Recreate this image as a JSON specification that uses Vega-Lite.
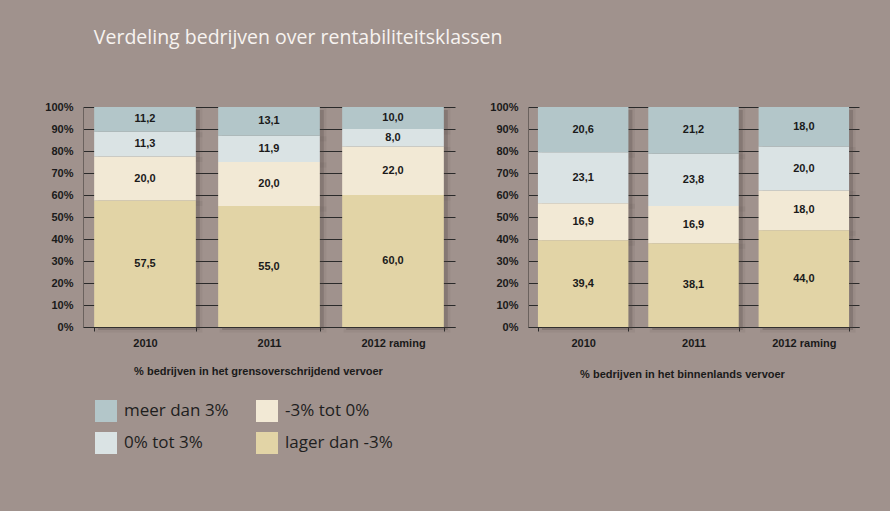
{
  "$schema": "https://vega.github.io/schema/vega-lite/v6.json",
  "background": "#a0928d",
  "padding": {"left": 44, "top": 28, "right": 32, "bottom": 57},
  "title": {"text": "Verdeling bedrijven over rentabiliteitsklassen", "anchor": "start", "frame": "bounds", "dx": 49, "offset": 52.5, "fontSize": 19.5, "font": "Open Sans", "fontWeight": "normal", "color": "#f7f3f0"},
  "datasets": {
    "grens": [
      {"jaar": "2010", "klasse": "lager dan -3%", "nr": 1, "waarde": 57.5},
      {"jaar": "2010", "klasse": "-3% tot 0%", "nr": 2, "waarde": 20.0},
      {"jaar": "2010", "klasse": "0% tot 3%", "nr": 3, "waarde": 11.3},
      {"jaar": "2010", "klasse": "meer dan 3%", "nr": 4, "waarde": 11.2},
      {"jaar": "2011", "klasse": "lager dan -3%", "nr": 1, "waarde": 55.0},
      {"jaar": "2011", "klasse": "-3% tot 0%", "nr": 2, "waarde": 20.0},
      {"jaar": "2011", "klasse": "0% tot 3%", "nr": 3, "waarde": 11.9},
      {"jaar": "2011", "klasse": "meer dan 3%", "nr": 4, "waarde": 13.1},
      {"jaar": "2012 raming", "klasse": "lager dan -3%", "nr": 1, "waarde": 60.0},
      {"jaar": "2012 raming", "klasse": "-3% tot 0%", "nr": 2, "waarde": 22.0},
      {"jaar": "2012 raming", "klasse": "0% tot 3%", "nr": 3, "waarde": 8.0},
      {"jaar": "2012 raming", "klasse": "meer dan 3%", "nr": 4, "waarde": 10.0}
    ],
    "binnen": [
      {"jaar": "2010", "klasse": "lager dan -3%", "nr": 1, "waarde": 39.4},
      {"jaar": "2010", "klasse": "-3% tot 0%", "nr": 2, "waarde": 16.9},
      {"jaar": "2010", "klasse": "0% tot 3%", "nr": 3, "waarde": 23.1},
      {"jaar": "2010", "klasse": "meer dan 3%", "nr": 4, "waarde": 20.6},
      {"jaar": "2011", "klasse": "lager dan -3%", "nr": 1, "waarde": 38.1},
      {"jaar": "2011", "klasse": "-3% tot 0%", "nr": 2, "waarde": 16.9},
      {"jaar": "2011", "klasse": "0% tot 3%", "nr": 3, "waarde": 23.8},
      {"jaar": "2011", "klasse": "meer dan 3%", "nr": 4, "waarde": 21.2},
      {"jaar": "2012 raming", "klasse": "lager dan -3%", "nr": 1, "waarde": 44.0},
      {"jaar": "2012 raming", "klasse": "-3% tot 0%", "nr": 2, "waarde": 18.0},
      {"jaar": "2012 raming", "klasse": "0% tot 3%", "nr": 3, "waarde": 20.0},
      {"jaar": "2012 raming", "klasse": "meer dan 3%", "nr": 4, "waarde": 18.0}
    ]
  },
  "spacing": 34,
  "hconcat": [
    {
      "width": 372,
      "height": 220,
      "data": {"name": "grens"},
      "encoding": {
        "x": {"field": "jaar", "type": "nominal", "sort": null,
          "scale": {"paddingInner": 0.18, "paddingOuter": 0.09},
          "axis": {"title": "% bedrijven in het grensoverschrijdend vervoer", "titleX": 175, "titlePadding": 17}}
      },
      "layer": [
        {
          "mark": {"type": "bar", "color": "#4a3f3b", "opacity": 0.3, "xOffset": 4, "yOffset": 3, "stroke": "#4a3f3b", "strokeWidth": 5, "strokeOpacity": 0.25},
          "encoding": {
            "y": {"field": "waarde", "type": "quantitative", "stack": "normalize",
              "axis": {"title": null, "format": ".0%", "labelOverlap": false, "values": [0, 0.1, 0.2, 0.3, 0.4, 0.5, 0.6, 0.7, 0.8, 0.9, 1]}},
            "order": {"field": "nr", "type": "quantitative"}
          }
        },
        {
          "mark": {"type": "bar"},
          "encoding": {
            "y": {"field": "waarde", "type": "quantitative", "stack": "normalize",
              "axis": {"title": null, "format": ".0%", "labelOverlap": false, "values": [0, 0.1, 0.2, 0.3, 0.4, 0.5, 0.6, 0.7, 0.8, 0.9, 1]}},
            "color": {"field": "klasse", "type": "nominal",
              "scale": {"domain": ["meer dan 3%", "0% tot 3%", "-3% tot 0%", "lager dan -3%"],
                        "range": ["#b3c6c9", "#dae3e4", "#f2e9d5", "#e2d4a6"]},
              "legend": {"title": null, "orient": "none", "legendX": 12, "legendY": 293, "columns": 2,
                "symbolType": "square", "symbolSize": 484, "symbolStrokeWidth": 0, "labelFontSize": 17,
                "labelFont": "Open Sans", "labelColor": "#1e1e1e", "labelOffset": 7, "columnPadding": 27, "rowPadding": 10}},
            "order": {"field": "nr", "type": "quantitative"}
          }
        },
        {
          "mark": {"type": "text", "fontSize": 11, "fontWeight": "bold", "color": "#1a1a1a"},
          "encoding": {
            "y": {"field": "waarde", "type": "quantitative", "stack": "normalize", "bandPosition": 0.5,
              "axis": {"title": null, "format": ".0%", "labelOverlap": false, "values": [0, 0.1, 0.2, 0.3, 0.4, 0.5, 0.6, 0.7, 0.8, 0.9, 1]}},
            "text": {"field": "waarde", "type": "quantitative", "format": ".1f"},
            "order": {"field": "nr", "type": "quantitative"}
          }
        }
      ]
    },
    {
      "width": 331,
      "height": 220,
      "data": {"name": "binnen"},
      "encoding": {
        "x": {"field": "jaar", "type": "nominal", "sort": null,
          "scale": {"paddingInner": 0.18, "paddingOuter": 0.09},
          "axis": {"title": "% bedrijven in het binnenlands vervoer", "titleX": 154, "titlePadding": 20}}
      },
      "layer": [
        {
          "mark": {"type": "bar", "color": "#4a3f3b", "opacity": 0.3, "xOffset": 4, "yOffset": 3, "stroke": "#4a3f3b", "strokeWidth": 5, "strokeOpacity": 0.25},
          "encoding": {
            "y": {"field": "waarde", "type": "quantitative", "stack": "normalize",
              "axis": {"title": null, "format": ".0%", "labelOverlap": false, "values": [0, 0.1, 0.2, 0.3, 0.4, 0.5, 0.6, 0.7, 0.8, 0.9, 1]}},
            "order": {"field": "nr", "type": "quantitative"}
          }
        },
        {
          "mark": {"type": "bar"},
          "encoding": {
            "y": {"field": "waarde", "type": "quantitative", "stack": "normalize",
              "axis": {"title": null, "format": ".0%", "labelOverlap": false, "values": [0, 0.1, 0.2, 0.3, 0.4, 0.5, 0.6, 0.7, 0.8, 0.9, 1]}},
            "color": {"field": "klasse", "type": "nominal"},
            "order": {"field": "nr", "type": "quantitative"}
          }
        },
        {
          "mark": {"type": "text", "fontSize": 11, "fontWeight": "bold", "color": "#1a1a1a"},
          "encoding": {
            "y": {"field": "waarde", "type": "quantitative", "stack": "normalize", "bandPosition": 0.5,
              "axis": {"title": null, "format": ".0%", "labelOverlap": false, "values": [0, 0.1, 0.2, 0.3, 0.4, 0.5, 0.6, 0.7, 0.8, 0.9, 1]}},
            "text": {"field": "waarde", "type": "quantitative", "format": ".1f"},
            "order": {"field": "nr", "type": "quantitative"}
          }
        }
      ]
    }
  ],
  "config": {
    "font": "Liberation Sans",
    "view": {"stroke": null},
    "locale": {"number": {"decimal": ",", "thousands": ".", "grouping": [3], "currency": ["€", ""]}},
    "axis": {
      "labelFont": "Liberation Sans", "labelFontWeight": "bold", "labelColor": "#1a1a1a",
      "titleFont": "Liberation Sans", "titleFontWeight": "bold", "titleColor": "#1a1a1a",
      "domainColor": "#2a2a2a", "tickColor": "#2a2a2a", "gridColor": "#2a2a2a", "gridWidth": 1.2, "gridOpacity": 1
    },
    "axisY": {"labelFontSize": 11, "tickSize": 0, "labelPadding": 10, "grid": true, "domain": true, "domainColor": "#6b625e"},
    "axisX": {"labelFontSize": 11, "labelAngle": 0, "tickBand": "extent", "tickSize": 4, "labelPadding": 6, "titleFontSize": 11, "grid": false}
  }
}
